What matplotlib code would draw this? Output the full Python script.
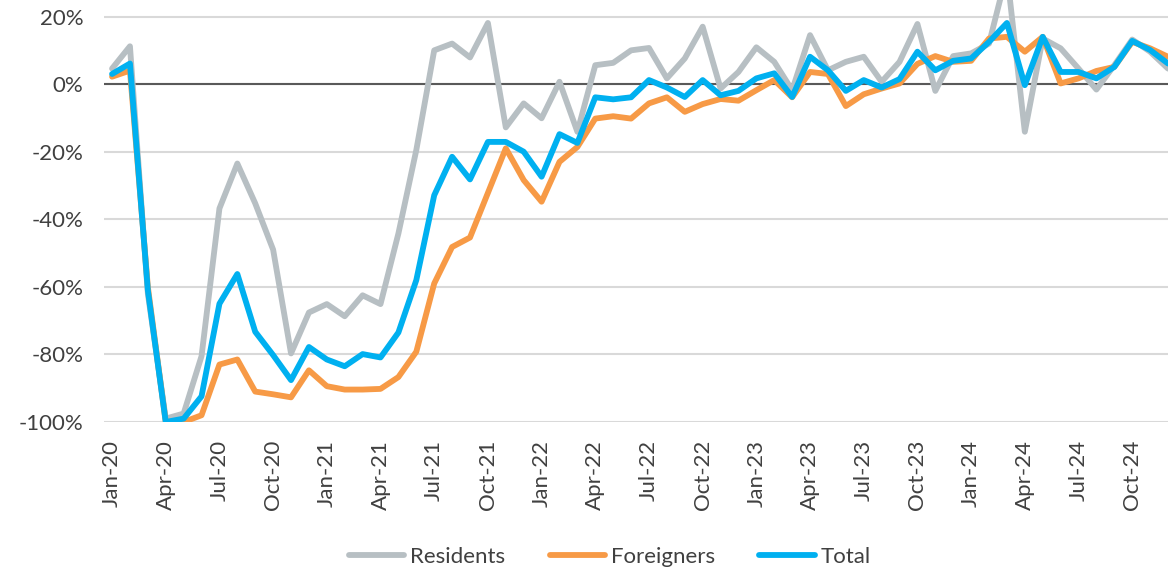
import matplotlib
matplotlib.use("Agg")
import matplotlib.pyplot as plt
from matplotlib.ticker import FuncFormatter

months = ["Jan", "Feb", "Mar", "Apr", "May", "Jun", "Jul", "Aug", "Sep", "Oct", "Nov", "Dec"]
years = ["20", "21", "22", "23", "24"]
categories = [f"{m}-{y}" for y in years for m in months]

residents = [4.6, 11.2, -62, -99, -97.5, -80.5, -36.8, -23.5, -35.3, -49, -79.7, -67.6,
             -65.1, -68.7, -62.5, -65.1, -44.2, -19.5, 10, 12, 7.9, 18.1, -12.8, -5.7,
             -10.1, 0.7, -14.1, 5.6, 6.3, 10, 10.7, 1.7, 7.6, 17, -1.3, 3.6,
             10.9, 6.6, -1.8, 14.5, 4.1, 6.6, 8.1, 0.7, 6.6, 17.8, -2, 8.3,
             9.1, 12, 33, -14.1, 13.5, 10.6, 4.6, -1.6, 5.6, 13.2, 9.6, 4.6]
foreigners = [2.2, 4, -60, -100, -100, -98, -83, -81.5, -91, -91.8, -92.7, -84.7,
              -89.4, -90.4, -90.4, -90.2, -86.7, -79.2, -59, -48.2, -45.4, -32.2, -19, -28.4,
              -34.8, -23, -18.6, -10.2, -9.5, -10.2, -5.7, -3.9, -8.2, -5.9, -4.4, -4.9,
              -1.8, 1.2, -3.9, 3.6, 3, -6.5, -3, -1.3, 0.2, 6, 8.3, 6.6,
              6.9, 13.5, 14, 9.6, 14, 0.2, 1.7, 3.9, 5.1, 12.5, 10.6, 8.1]
total = [3, 6.1, -61, -100, -99, -92.4, -65, -56.2, -73.3, -80.2, -87.6, -77.8,
         -81.5, -83.5, -79.9, -80.9, -73.5, -58, -32.9, -21.5, -28.2, -17.1, -17.1, -20,
         -27.4, -14.8, -17.4, -3.9, -4.5, -3.9, 1.2, -1, -3.8, 1.2, -3.3, -2,
         1.7, 3.2, -3.8, 8.1, 4.1, -2, 1.2, -1, 1.5, 9.6, 4.1, 6.9,
         7.6, 12.5, 18.1, -0.3, 14, 3.6, 3.6, 1.7, 5.1, 12.8, 10.1, 6.1]

series_names = ["Residents", "Foreigners", "Total"]
colors = ["#B7BFC3", "#F79A46", "#00B0F0"]
y_ticks = [-100, -80, -60, -40, -20, 0, 20]

W, H = 1168, 573
fig = plt.figure(figsize=(W / 100, H / 100), dpi=100)
plt.rcParams['font.family'] = ['Lato', 'DejaVu Sans']
ax = fig.add_axes([104 / W, 1 - 422 / H, 1 - 104 / W, 422 / H])

x = list(range(len(categories)))
for vals, name, c in zip([residents, foreigners, total], series_names, colors):
    ax.plot(x, vals, color=c, lw=4.2, label=name, solid_joinstyle='round',
            solid_capstyle='round', zorder=3)

ax.axhline(0, color="#595959", lw=1.5, zorder=2)
ax.set_ylim(-100, 24.9)
ax.set_xlim(-0.45, 59.0)
ax.set_yticks(y_ticks)
ax.yaxis.set_major_formatter(FuncFormatter(lambda v, p: f"{int(v)}%"))
ax.grid(axis='y', color="#D9D9D9", lw=1.5, zorder=0)
ax.set_axisbelow(True)
ax.set_xticks(x[::3])
ax.set_xticklabels(categories[::3], rotation=90)
ax.tick_params(axis='both', length=0, labelsize=16, colors="#404040")
ax.tick_params(axis='y', pad=15)
ax.tick_params(axis='x', pad=13)
for s in ax.spines.values():
    s.set_visible(False)

fig.legend(loc='center', bbox_to_anchor=(0.522, 1 - 557 / H), ncol=3, frameon=False,
           fontsize=16, handlelength=2.5, handletextpad=0.25, columnspacing=2.0,
           labelcolor="#404040")

fig.savefig("out.png", dpi=100)
